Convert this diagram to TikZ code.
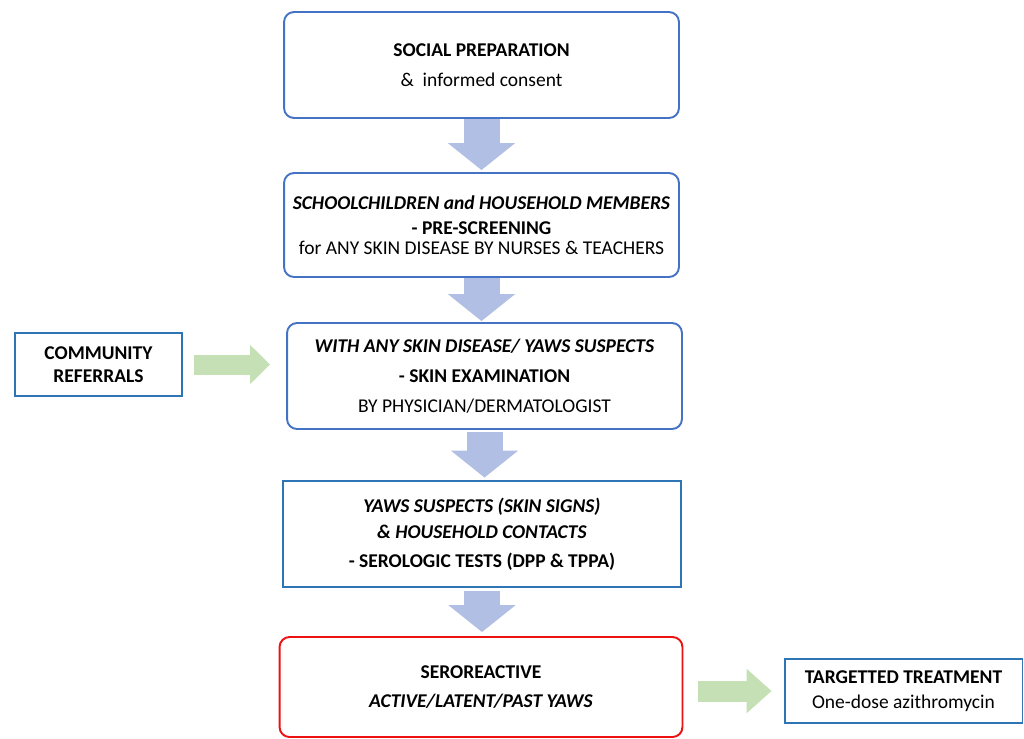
\documentclass[tikz,border=0pt]{standalone}
\usepackage{fontspec}
\setmainfont{Carlito}
\usetikzlibrary{arrows.meta}
\definecolor{boxblue}{HTML}{4472C4}
\definecolor{rectblue}{HTML}{2E75B6}
\definecolor{arrowblue}{HTML}{B0BFE3}
\definecolor{arrowgreen}{HTML}{C5E0B4}
\definecolor{boxred}{HTML}{EE1111}

\begin{document}
\begin{tikzpicture}[x=0.02cm,y=-0.02cm,
   font=\fontsize{11.1}{13.5}\selectfont,
   stepbox/.style={draw=boxblue,line width=1.1pt,rounded corners=0.2cm,align=center,
                   inner sep=0pt,minimum width=7.9cm,minimum height=2.12cm},
   sidebox/.style={draw=rectblue,line width=1.1pt,align=center,inner sep=0pt},
   downarrow/.style={draw=arrowblue,line width=0.72cm,
                     -{Triangle[width=1.32cm,length=0.54cm]}},
   sidearrow/.style={draw=arrowgreen,line width=0.4cm,
                     -{Triangle[width=0.76cm,length=0.4cm]}}]
   \useasboundingbox (0,0) rectangle (1024,738);
   % main column
   \node[stepbox] (soc) at (481.5,65)
     {\textbf{SOCIAL PREPARATION}\\[3.5pt] \&\ \ informed consent};
   \node[stepbox,minimum height=2.08cm] (school) at (481.5,225)
     {\textbf{\textit{SCHOOLCHILDREN and HOUSEHOLD MEMBERS}}\\[0.7pt]
      \textbf{- PRE-SCREENING}\\[-2.2pt] for ANY SKIN DISEASE BY NURSES \& TEACHERS};
   \node[stepbox] (exam) at (484.5,376)
     {\textbf{\textit{WITH ANY SKIN DISEASE/ YAWS SUSPECTS}}\\[3.5pt]
      \textbf{- SKIN EXAMINATION}\\[3.5pt] BY PHYSICIAN/DERMATOLOGIST};
   \node[stepbox,draw=rectblue,rounded corners=0pt,minimum width=7.96cm] (sero) at (482,534)
     {\textbf{\textit{YAWS SUSPECTS (SKIN SIGNS)}}\\[1.2pt]
      \textbf{\textit{\& HOUSEHOLD CONTACTS}}\\[2.9pt] \textbf{- SEROLOGIC TESTS (DPP \& TPPA)}};
   \node[stepbox,draw=boxred,minimum width=8.06cm,minimum height=2.0cm] (react) at (481,687)
     {\textbf{SEROREACTIVE}\\[2.9pt] \textbf{\textit{ACTIVE/LATENT/PAST YAWS}}};
   % side boxes
   \node[sidebox,minimum width=3.34cm,minimum height=1.26cm] (refer) at (98.5,364.5)
     {\textbf{COMMUNITY}\\[-0.5pt] \textbf{REFERRALS}};
   \node[sidebox,minimum width=4.76cm,minimum height=1.28cm] (treat) at (903.5,691)
     {\textbf{TARGETTED TREATMENT}\\[0.7pt] One-dose azithromycin};
   % block arrows
   \draw[downarrow,shorten >=0.04cm] (soc.south) -- (school.north);
   \draw[downarrow,shorten >=0.02cm] (school.south) -- (school.south |- exam.north);
   \draw[downarrow,shorten <=0.05cm,shorten >=0.05cm] (exam.south) -- (exam.south |- sero.north);
   \draw[downarrow,shorten <=0.06cm,shorten >=0.08cm] (sero.south) -- (sero.south |- react.north);
   \draw[sidearrow,shorten <=0.22cm,shorten >=0.32cm] (refer.east) -- (refer.east -| exam.west);
   \draw[sidearrow,line width=0.42cm,-{Triangle[width=0.86cm,length=0.5cm]},
         shorten <=0.3cm,shorten >=0.24cm] (react.east |- treat.west) -- (treat.west);
\end{tikzpicture}
\end{document}
